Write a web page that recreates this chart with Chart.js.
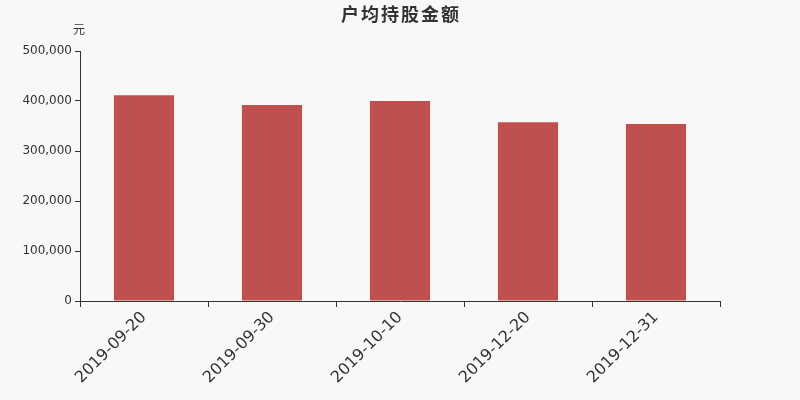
<!DOCTYPE html>
<html>
<head>
<meta charset="utf-8">
<script src="https://cdn.jsdelivr.net/npm/chart.js@4"></script>
<style>
  html, body { margin: 0; padding: 0; background: #f8f8f8; }
  #wrap { width: 800px; height: 400px; }
</style>
</head>
<body>
<div id="wrap"><canvas id="chart"></canvas></div>
<script>
var categories = ['2019-09-20', '2019-09-30', '2019-10-10', '2019-12-20', '2019-12-31'];
var values = [411400, 392000, 399800, 357600, 354200];
var yTicks = [0, 100000, 200000, 300000, 400000, 500000];

var titleText = '户均持股金额';
var unitText = '元';

// title and unit drawn at fixed spots
var labelsPlugin = {
    id: 'labels',
    afterDraw: function (chart) {
        var c = chart.ctx;
        c.save();
        c.fillStyle = '#333';
        c.textAlign = 'center';
        c.textBaseline = 'middle';
        c.font = 'bold 18px "Noto Sans CJK SC"';
        c.letterSpacing = '2px';
        c.fillText(titleText, 401, 14);
        c.letterSpacing = '0px';
        c.font = '12px "Noto Sans CJK SC"';
        c.fillText(unitText, 79, 29);
        c.restore();
    }
};

new Chart(document.getElementById('chart'), {
    type: 'bar',
    data: {
        labels: categories,
        datasets: [{
            data: values,
            backgroundColor: '#c0504e',
            categoryPercentage: 1,
            barPercentage: 0.47
        }]
    },
    plugins: [labelsPlugin],
    options: {
        responsive: true,
        maintainAspectRatio: false,
        animation: false,
        layout: { padding: { top: 51, right: 80, left: 0, bottom: 0 } },
        plugins: {
            legend: { display: false },
            title: { display: false },
            tooltip: { enabled: false }
        },
        scales: {
            x: {
                offset: true,
                afterFit: function (s) { s.height = 99; },
                border: { color: '#333', width: 1 },
                grid: { offset: true, drawOnChartArea: false, drawTicks: true, tickLength: 6, color: '#333' },
                ticks: {
                    color: '#333',
                    font: { family: 'DejaVu Sans', size: 16 },
                    minRotation: 45,
                    maxRotation: 45,
                    padding: 1
                }
            },
            y: {
                min: 0,
                max: 500000,
                afterFit: function (s) { s.width = 80; },
                afterBuildTicks: function (s) {
                    s.ticks = yTicks.map(function (v) { return { value: v }; });
                },
                border: { color: '#333', width: 1 },
                grid: { drawOnChartArea: false, drawTicks: true, tickLength: 5, color: '#333' },
                ticks: {
                    color: '#333',
                    font: { family: 'DejaVu Sans', size: 12 },
                    padding: 3,
                    callback: function (v) { return v.toLocaleString('en-US'); }
                }
            }
        }
    }
});
</script>
</body>
</html>
